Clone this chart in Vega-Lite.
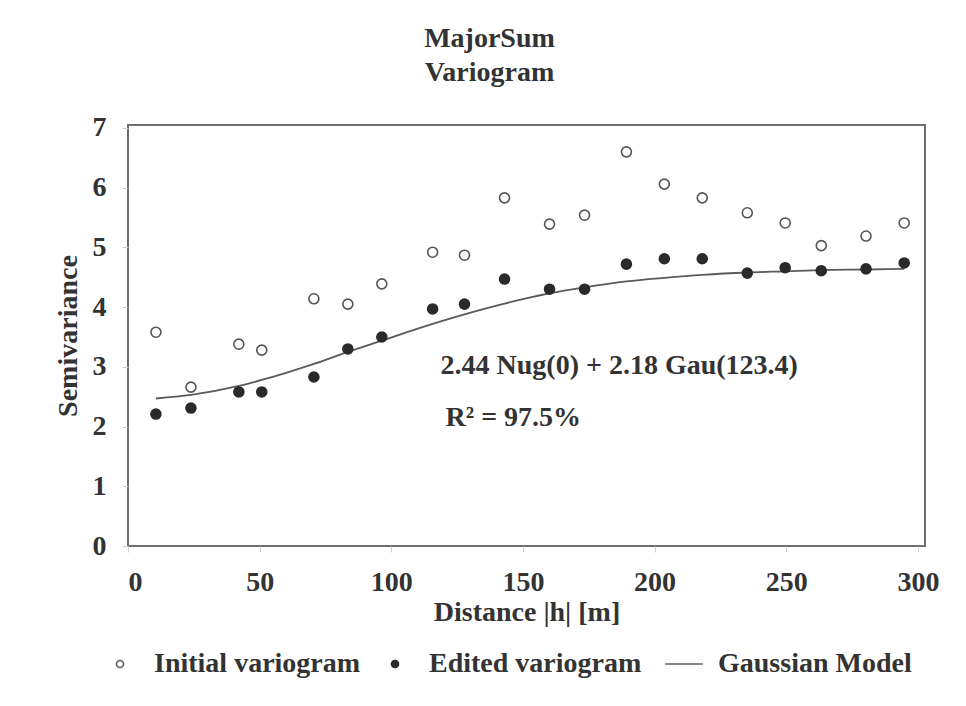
{
  "$schema": "https://vega.github.io/schema/vega-lite/v6.json",
  "width": 797,
  "height": 421,
  "autosize": {"type": "none"},
  "padding": {"left": 128, "top": 125, "right": 41, "bottom": 160},
  "background": "white",
  "config": {
    "view": {"stroke": "#6e6e6e", "strokeWidth": 2},
    "font": "Liberation Serif",
    "axis": {
      "grid": false,
      "domain": false,
      "tickColor": "#d0d0d0",
      "tickSize": 6,
      "labelFont": "Liberation Serif",
      "labelFontSize": 28,
      "labelFontWeight": "bold",
      "labelColor": "#333333",
      "titleFont": "Liberation Serif",
      "titleFontSize": 28,
      "titleFontWeight": "bold",
      "titleColor": "#333333"
    },
    "legend": {
      "labelFont": "Liberation Serif",
      "labelFontSize": 28,
      "labelFontWeight": "bold",
      "labelColor": "#333333",
      "labelLimit": 0
    }
  },
  "title": {
    "text": ["MajorSum", "Variogram"],
    "font": "Liberation Serif",
    "fontSize": 28,
    "fontWeight": "bold",
    "color": "#333333",
    "lineHeight": 34,
    "anchor": "middle",
    "dx": -37,
    "offset": 27
  },
  "datasets": {
    "variogram": [
      {"h": 10.6, "gamma": 3.58, "series": "Initial variogram"},
      {"h": 23.9, "gamma": 2.66, "series": "Initial variogram"},
      {"h": 42.1, "gamma": 3.38, "series": "Initial variogram"},
      {"h": 50.8, "gamma": 3.28, "series": "Initial variogram"},
      {"h": 70.6, "gamma": 4.14, "series": "Initial variogram"},
      {"h": 83.5, "gamma": 4.05, "series": "Initial variogram"},
      {"h": 96.4, "gamma": 4.39, "series": "Initial variogram"},
      {"h": 115.7, "gamma": 4.92, "series": "Initial variogram"},
      {"h": 127.8, "gamma": 4.87, "series": "Initial variogram"},
      {"h": 143.0, "gamma": 5.83, "series": "Initial variogram"},
      {"h": 160.1, "gamma": 5.39, "series": "Initial variogram"},
      {"h": 173.4, "gamma": 5.54, "series": "Initial variogram"},
      {"h": 189.3, "gamma": 6.6, "series": "Initial variogram"},
      {"h": 203.7, "gamma": 6.06, "series": "Initial variogram"},
      {"h": 218.1, "gamma": 5.83, "series": "Initial variogram"},
      {"h": 235.2, "gamma": 5.58, "series": "Initial variogram"},
      {"h": 249.6, "gamma": 5.41, "series": "Initial variogram"},
      {"h": 263.3, "gamma": 5.03, "series": "Initial variogram"},
      {"h": 280.3, "gamma": 5.19, "series": "Initial variogram"},
      {"h": 294.8, "gamma": 5.41, "series": "Initial variogram"},
      {"h": 10.6, "gamma": 2.21, "series": "Edited variogram"},
      {"h": 23.9, "gamma": 2.31, "series": "Edited variogram"},
      {"h": 42.1, "gamma": 2.58, "series": "Edited variogram"},
      {"h": 50.8, "gamma": 2.58, "series": "Edited variogram"},
      {"h": 70.6, "gamma": 2.83, "series": "Edited variogram"},
      {"h": 83.5, "gamma": 3.3, "series": "Edited variogram"},
      {"h": 96.4, "gamma": 3.5, "series": "Edited variogram"},
      {"h": 115.7, "gamma": 3.97, "series": "Edited variogram"},
      {"h": 127.8, "gamma": 4.05, "series": "Edited variogram"},
      {"h": 143.0, "gamma": 4.47, "series": "Edited variogram"},
      {"h": 160.1, "gamma": 4.3, "series": "Edited variogram"},
      {"h": 173.4, "gamma": 4.3, "series": "Edited variogram"},
      {"h": 189.3, "gamma": 4.72, "series": "Edited variogram"},
      {"h": 203.7, "gamma": 4.81, "series": "Edited variogram"},
      {"h": 218.1, "gamma": 4.81, "series": "Edited variogram"},
      {"h": 235.2, "gamma": 4.57, "series": "Edited variogram"},
      {"h": 249.6, "gamma": 4.66, "series": "Edited variogram"},
      {"h": 263.3, "gamma": 4.61, "series": "Edited variogram"},
      {"h": 280.3, "gamma": 4.64, "series": "Edited variogram"},
      {"h": 294.8, "gamma": 4.74, "series": "Edited variogram"}
    ],
    "model": [
      {"h": 10.6, "gamma": 2.47, "series": "Gaussian Model"},
      {"h": 23.9, "gamma": 2.53, "series": "Gaussian Model"},
      {"h": 42.1, "gamma": 2.68, "series": "Gaussian Model"},
      {"h": 50.8, "gamma": 2.78, "series": "Gaussian Model"},
      {"h": 70.6, "gamma": 3.05, "series": "Gaussian Model"},
      {"h": 83.5, "gamma": 3.25, "series": "Gaussian Model"},
      {"h": 96.4, "gamma": 3.44, "series": "Gaussian Model"},
      {"h": 115.7, "gamma": 3.72, "series": "Gaussian Model"},
      {"h": 127.8, "gamma": 3.88, "series": "Gaussian Model"},
      {"h": 143.0, "gamma": 4.06, "series": "Gaussian Model"},
      {"h": 160.1, "gamma": 4.23, "series": "Gaussian Model"},
      {"h": 173.4, "gamma": 4.33, "series": "Gaussian Model"},
      {"h": 189.3, "gamma": 4.43, "series": "Gaussian Model"},
      {"h": 203.7, "gamma": 4.49, "series": "Gaussian Model"},
      {"h": 218.1, "gamma": 4.54, "series": "Gaussian Model"},
      {"h": 235.2, "gamma": 4.58, "series": "Gaussian Model"},
      {"h": 249.6, "gamma": 4.6, "series": "Gaussian Model"},
      {"h": 263.3, "gamma": 4.62, "series": "Gaussian Model"},
      {"h": 280.3, "gamma": 4.63, "series": "Gaussian Model"},
      {"h": 294.8, "gamma": 4.64, "series": "Gaussian Model"}
    ],
    "notes": [
      {"h": 118.7, "gamma": 3.01, "label": "2.44 Nug(0) + 2.18 Gau(123.4)"},
      {"h": 120.6, "gamma": 2.14, "label": "R² = 97.5%"}
    ]
  },
  "layer": [
    {
      "data": {"name": "model"},
      "mark": {"type": "line", "strokeWidth": 1.8, "interpolate": "monotone"},
      "encoding": {
        "x": {
          "field": "h",
          "type": "quantitative",
          "scale": {"domain": [0, 302.7], "nice": false, "zero": false},
          "axis": {
            "title": "Distance |h| [m]",
            "values": [0, 50, 100, 150, 200, 250, 300],
            "format": "d",
            "labelBaseline": "middle",
            "labelPadding": 30,
            "titlePadding": 2
          }
        },
        "y": {
          "field": "gamma",
          "type": "quantitative",
          "scale": {"domain": [0, 7.05], "nice": false, "zero": false},
          "axis": {
            "title": "Semivariance",
            "values": [0, 1, 2, 3, 4, 5, 6, 7],
            "format": "d",
            "labelPadding": 16,
            "titlePadding": 10
          }
        },
        "stroke": {
          "field": "series",
          "type": "nominal",
          "scale": {
            "domain": ["Initial variogram", "Edited variogram", "Gaussian Model"],
            "range": ["#555555", "#2a2a2a", "#5a5a5a"]
          },
          "legend": {
            "title": null,
            "orient": "none",
            "legendX": -22,
            "legendY": 525,
            "direction": "horizontal",
            "padding": 0,
            "symbolSize": 50,
            "symbolStrokeWidth": 1.6,
            "labelOffset": 20,
            "labelLimit": 0,
            "columnPadding": 20
          }
        }
      }
    },
    {
      "data": {"name": "variogram"},
      "mark": {"type": "point", "filled": true, "size": 100, "strokeWidth": 1.6, "opacity": 1},
      "encoding": {
        "x": {"field": "h", "type": "quantitative"},
        "y": {"field": "gamma", "type": "quantitative"},
        "stroke": {"field": "series", "type": "nominal"},
        "fill": {
          "field": "series",
          "type": "nominal",
          "scale": {
            "domain": ["Initial variogram", "Edited variogram", "Gaussian Model"],
            "range": ["#ffffff", "#2a2a2a", "transparent"]
          },
          "legend": {"title": null}
        },
        "shape": {
          "field": "series",
          "type": "nominal",
          "scale": {
            "domain": ["Initial variogram", "Edited variogram", "Gaussian Model"],
            "range": ["circle", "circle", "M-5.3,0L5.3,0"]
          },
          "legend": {"title": null}
        }
      }
    },
    {
      "data": {"name": "notes"},
      "mark": {
        "type": "text",
        "align": "left",
        "baseline": "middle",
        "font": "Liberation Serif",
        "fontSize": 28,
        "fontWeight": "bold",
        "color": "#333333"
      },
      "encoding": {
        "x": {"field": "h", "type": "quantitative"},
        "y": {"field": "gamma", "type": "quantitative"},
        "text": {"field": "label", "type": "nominal"}
      }
    }
  ]
}
